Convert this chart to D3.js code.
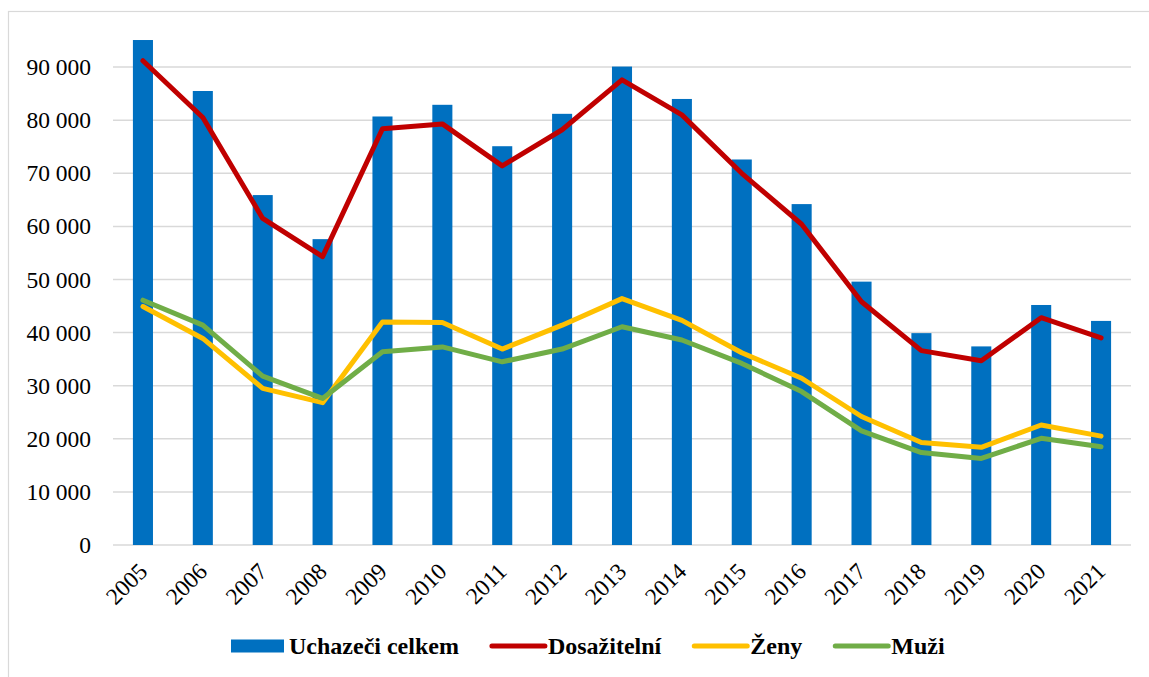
<!DOCTYPE html>
<html>
<head>
<meta charset="utf-8">
<script src="https://cdn.jsdelivr.net/npm/d3@7"></script>
<style>
  html, body { margin: 0; padding: 0; background: #fff; }
  svg { display: block; font-family: 'Liberation Serif', 'Times New Roman', serif; }
</style>
</head>
<body>
<svg id="chart" width="1149" height="677"></svg>
<script>
// values
const years = ['2005', '2006', '2007', '2008', '2009', '2010', '2011', '2012', '2013',
  '2014', '2015', '2016', '2017', '2018', '2019', '2020', '2021'];
const uchazeci = [95100, 85500, 65900, 57600, 80700, 82900, 75100, 81200, 90100,
  84000, 72600, 64200, 49600, 39900, 37400, 45200, 42200];
const dosazitelni = [91200, 80500, 61500, 54300, 78400, 79300, 71400, 78200, 87600,
  81000, 70000, 60400, 45800, 36600, 34700, 42800, 39000];
const zeny = [44900, 38900, 29500, 26800, 42000, 41900, 36900, 41400, 46400,
  42300, 36200, 31400, 24200, 19300, 18400, 22600, 20500];
const muzi = [46100, 41400, 31800, 27600, 36400, 37300, 34500, 36900, 41100,
  38600, 34200, 28900, 21500, 17400, 16300, 20100, 18500];
const yTicks = [0, 10000, 20000, 30000, 40000, 50000, 60000, 70000, 80000, 90000];

const lineSeries = [
  { name: 'Dosažitelní', values: dosazitelni, color: '#C00000' },
  { name: 'Ženy', values: zeny, color: '#FFC000' },
  { name: 'Muži', values: muzi, color: '#70AD47' }
];

const width = 1149;
const height = 677;
const plotLeft = 113;
const plotRight = 1131;
const plotBottom = 545;
const plotTop = 14;
const serif = "'Liberation Serif', 'Times New Roman', serif";

const svg = d3.select('#chart');

// chart frame (right and bottom fall outside the picture)
svg.append('rect')
  .attr('x', 8.5).attr('y', 11.5)
  .attr('width', width + 20).attr('height', height + 20)
  .attr('fill', 'none')
  .attr('stroke', '#d9d9d9')
  .attr('stroke-width', 1.2);

const x = d3.scaleBand()
  .domain(years)
  .range([plotLeft, plotRight])
  .paddingInner(0.665)
  .paddingOuter(0.3325);

const y = d3.scaleLinear()
  .domain([0, 100000])
  .range([plotBottom, plotTop]);

const fmt = d3.formatLocale({ decimal: ',', thousands: ' ', grouping: [3], currency: ['', ''] })
  .format(',');

// gridlines
svg.append('g')
  .selectAll('line')
  .data(yTicks)
  .join('line')
  .attr('x1', plotLeft)
  .attr('x2', plotRight)
  .attr('y1', (d) => y(d))
  .attr('y2', (d) => y(d))
  .attr('stroke', '#d9d9d9')
  .attr('stroke-width', 1.5);

// y axis labels
svg.append('g')
  .attr('transform', `translate(${plotLeft},0)`)
  .call(d3.axisLeft(y).tickValues(yTicks).tickFormat(fmt).tickSize(0).tickPadding(22))
  .attr('font-family', serif)
  .call((g) => g.select('.domain').remove())
  .call((g) => g.selectAll('text')
    .attr('fill', '#000')
    .style('font-size', '23.5px')
    .style('font-family', serif));

// bars
svg.append('g')
  .selectAll('rect')
  .data(years)
  .join('rect')
  .attr('x', (d) => x(d))
  .attr('width', x.bandwidth())
  .attr('y', (d, i) => y(uchazeci[i]))
  .attr('height', (d, i) => y(0) - y(uchazeci[i]))
  .attr('fill', '#0070C0');

// lines
const line = d3.line()
  .x((d, i) => x(years[i]) + x.bandwidth() / 2)
  .y((d) => y(d));

svg.append('g')
  .selectAll('path')
  .data(lineSeries)
  .join('path')
  .attr('d', (s) => line(s.values))
  .attr('fill', 'none')
  .attr('stroke', (s) => s.color)
  .attr('stroke-width', 5)
  .attr('stroke-linejoin', 'round')
  .attr('stroke-linecap', 'round');

// x axis labels, rotated
svg.append('g')
  .selectAll('text')
  .data(years)
  .join('text')
  .attr('transform', (d) => `translate(${x(d) + x.bandwidth() / 2},${plotBottom + 22}) rotate(-45)`)
  .attr('text-anchor', 'end')
  .attr('dy', '0.35em')
  .style('font-size', '23.5px')
  .style('font-family', serif)
  .attr('fill', '#000')
  .text((d) => d);

// legend
const legendItems = [
  { name: 'Uchazeči celkem', color: '#0070C0', type: 'bar' },
  ...lineSeries.map((s) => ({ name: s.name, color: s.color, type: 'line' }))
];
const legend = svg.append('g').attr('transform', 'translate(231,646)');
let lx = 0;
legendItems.forEach((item) => {
  const g = legend.append('g').attr('transform', `translate(${lx},0)`);
  if (item.type === 'bar') {
    g.append('rect')
      .attr('x', 0).attr('y', -6.5)
      .attr('width', 53).attr('height', 13)
      .attr('fill', item.color);
  } else {
    g.append('line')
      .attr('x1', 2).attr('x2', 55)
      .attr('y1', 0).attr('y2', 0)
      .attr('stroke', item.color)
      .attr('stroke-width', 5)
      .attr('stroke-linecap', 'round');
  }
  const t = g.append('text')
    .attr('x', 58)
    .attr('dy', '0.35em')
    .style('font-size', '24px')
    .style('font-weight', 'bold')
    .style('font-family', serif)
    .attr('fill', '#000')
    .text(item.name);
  lx += 58 + t.node().getComputedTextLength() + 31;
});
</script>
</body>
</html>
